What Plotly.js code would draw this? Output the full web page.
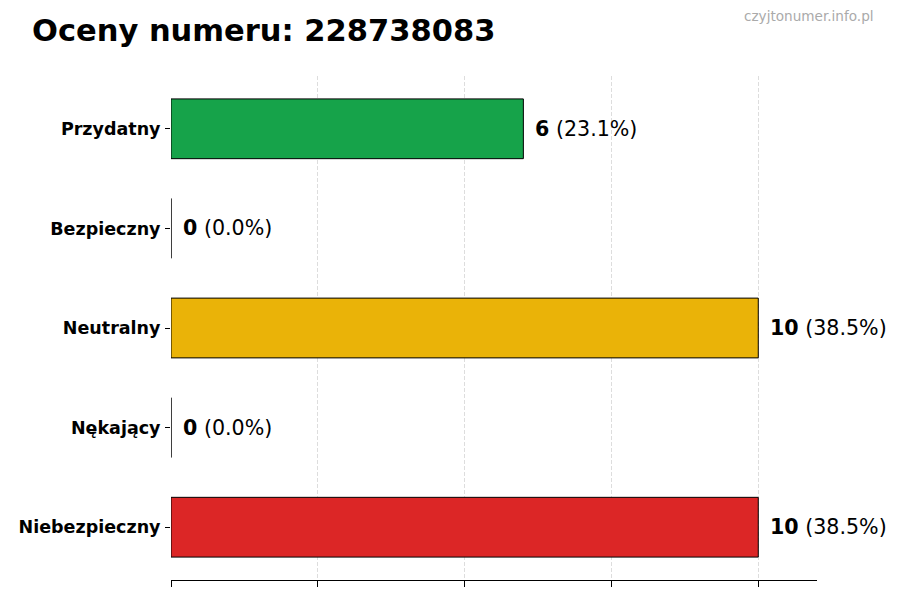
<!DOCTYPE html>
<html>
<head>
<meta charset="utf-8">
<script src="https://cdn.plot.ly/plotly-3.0.1.min.js"></script>
<style>
  html, body { margin: 0; padding: 0; background: #fff; }
  #chart { width: 900px; height: 600px; }
</style>
</head>
<body>
<div id="chart"></div>
<script>
var categories = ['Przydatny', 'Bezpieczny', 'Neutralny', 'Nękający', 'Niebezpieczny'];
var counts = [6, 0, 10, 0, 10];
var barColors = ['#16a34a', '#2563eb', '#eab308', '#f97316', '#dc2626'];
var phoneNumber = '228738083';

var total = counts.reduce(function (a, b) { return a + b; }, 0);

var trace = {
    type: 'bar',
    orientation: 'h',
    x: counts,
    y: categories,
    width: 0.6,
    marker: {
        color: barColors,
        line: { color: '#000', width: 1 }
    },
    hoverinfo: 'skip'
};

var notes = categories.map(function (c, i) {
    var pct = total ? (counts[i] / total * 100).toFixed(1) : '0.0';
    return {
        x: counts[i],
        y: c,
        xref: 'x',
        yref: 'y',
        text: '<b>' + counts[i] + '</b> (' + pct + '%)',
        showarrow: false,
        xanchor: 'left',
        yanchor: 'middle',
        xshift: 10,
        font: { family: 'DejaVu Sans', size: 20.6, color: '#000' }
    };
});

notes.push({
    text: 'czyjtonumer.info.pl',
    xref: 'paper', yref: 'paper',
    x: 1.092, y: 1.119,
    xanchor: 'right', yanchor: 'middle',
    showarrow: false,
    font: { family: 'DejaVu Sans', size: 13.6, color: '#aaaaaa' }
});

var layout = {
    width: 900,
    height: 600,
    margin: { l: 171, r: 83, t: 76, b: 20 },
    paper_bgcolor: '#fff',
    plot_bgcolor: '#fff',
    showlegend: false,
    font: { family: 'DejaVu Sans', color: '#000' },
    title: {
        text: '<b>Oceny numeru: ' + phoneNumber + '</b>',
        font: { family: 'DejaVu Sans', size: 30.5, color: '#000' },
        xref: 'container', yref: 'container',
        x: 32 / 900, xanchor: 'left',
        y: 1 - 30 / 600, yanchor: 'middle'
    },
    xaxis: {
        range: [0, 11],
        tickvals: [0, 2.5, 5, 7.5, 10],
        showticklabels: false,
        ticks: 'outside',
        ticklen: 6,
        tickcolor: '#000',
        showline: true,
        linecolor: '#000',
        linewidth: 1.2,
        showgrid: true,
        gridcolor: '#dddddd',
        griddash: '4px,2px',
        gridwidth: 1,
        zeroline: false,
        fixedrange: true
    },
    yaxis: {
        type: 'category',
        range: [4.53, -0.53],
        ticks: 'outside',
        ticklen: 5,
        tickcolor: '#000',
        showline: false,
        showgrid: false,
        zeroline: false,
        tickfont: { family: 'DejaVu Sans', size: 17.5, color: '#000', weight: 'bold' },
        ticklabelstandoff: 1,
        fixedrange: true
    },
    annotations: notes
};

Plotly.newPlot('chart', [trace], layout, { displayModeBar: false, staticPlot: true });
</script>
</body>
</html>
